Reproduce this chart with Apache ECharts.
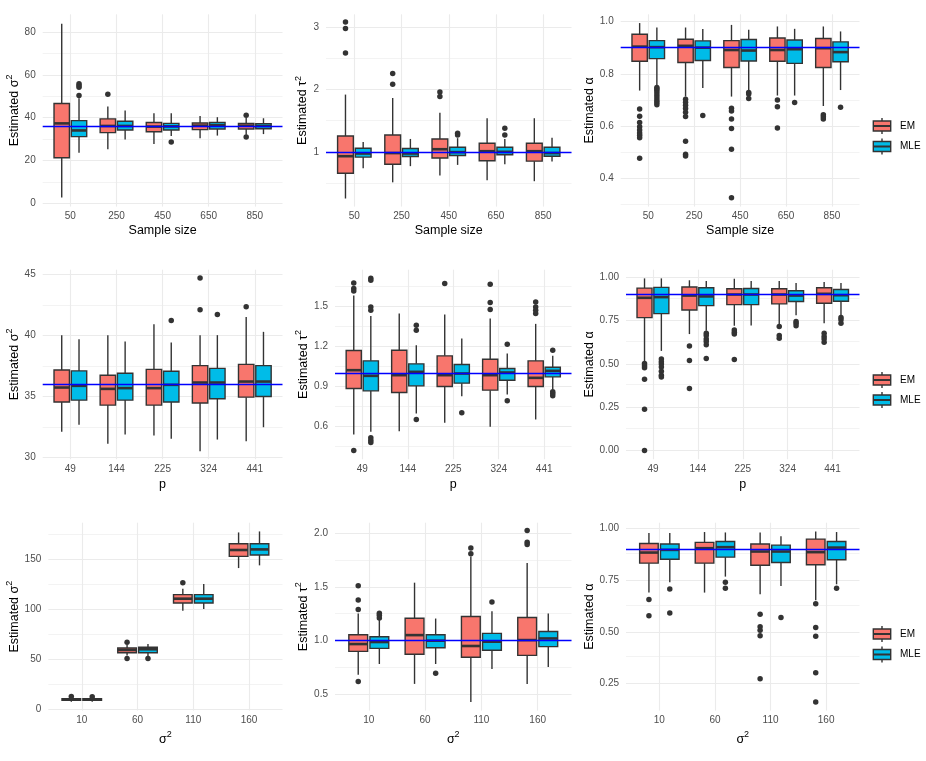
<!DOCTYPE html>
<html>
<head>
<meta charset="utf-8">
<script src="https://cdn.jsdelivr.net/npm/echarts@6/dist/echarts.min.js"></script>
<style>
html,body{margin:0;padding:0;background:#fff;}
#chart{width:926px;height:761px;}
</style>
</head>
<body>
<div id="chart"></div>
<script>
// ---------------- DATA ----------------
const sampleSizes = ['50', '250', '450', '650', '850'];
const pValues = ['49', '144', '225', '324', '441'];
const sigma2Values = ['10', '60', '110', '160'];
const methods = ['EM', 'MLE'];

// each box: [lower whisker, Q1, median, Q3, upper whisker]; outliers: [category index, value]
// Panel 1: Estimated sigma^2 vs sample size
const p1EM = [[2.7, 21.25, 37.3, 46.6, 83.9], [25.2, 33.0, 36.1, 39.4, 45.2], [27.7, 33.4, 35.8, 37.7, 42.0], [30.3, 34.4, 36.25, 37.5, 40.8], [32.0, 34.7, 36.25, 37.3, 39.9]];
const p1MLE = [[23.6, 31.1, 34.0, 38.6, 49.0], [29.8, 34.2, 36.1, 38.3, 43.3], [31.4, 34.2, 35.9, 37.3, 42.0], [31.6, 34.7, 36.4, 37.7, 40.2], [32.3, 34.8, 36.1, 37.2, 39.7]];
const p1EMOut = [[1, 50.9], [4, 41.1], [4, 30.9]];
const p1MLEOut = [[0, 55.8], [0, 55.0], [0, 54.2], [0, 50.3], [2, 28.6]];
const p1Ticks = [0, 20, 40, 60, 80];
const p1TickLabels = ['0', '20', '40', '60', '80'];
const p1Minor = [10, 30, 50, 70];
const p1True = 36;

// Panel 2: Estimated tau^2 vs sample size
const p2EM = [[0.25, 0.655, 0.93, 1.255, 1.92], [0.51, 0.80, 0.98, 1.27, 1.865], [0.618, 0.90, 1.042, 1.207, 1.63], [0.544, 0.857, 1.01, 1.138, 1.54], [0.528, 0.85, 1.01, 1.138, 1.54]];
const p2MLE = [[0.735, 0.915, 0.973, 1.058, 1.16], [0.77, 0.926, 0.973, 1.053, 1.207], [0.79, 0.94, 0.995, 1.074, 1.22], [0.8, 0.952, 1.0, 1.074, 1.207], [0.846, 0.93, 0.98, 1.074, 1.228]];
const p2EMOut = [[0, 3.085], [0, 2.98], [0, 2.59], [1, 2.257], [1, 2.087], [2, 1.96], [2, 1.89]];
const p2MLEOut = [[2, 1.30], [2, 1.27], [3, 1.377], [3, 1.27]];
const p2Ticks = [1, 2, 3];
const p2TickLabels = ['1', '2', '3'];
const p2Minor = [0.5, 1.5, 2.5];
const p2True = 1;

// Panel 3: Estimated alpha vs sample size
const p3EM = [[0.736, 0.848, 0.904, 0.951, 0.994], [0.713, 0.843, 0.907, 0.932, 0.977], [0.713, 0.824, 0.891, 0.927, 0.987], [0.717, 0.848, 0.891, 0.937, 0.981], [0.677, 0.824, 0.898, 0.935, 0.981]];
const p3MLE = [[0.757, 0.858, 0.902, 0.927, 0.977], [0.746, 0.851, 0.90, 0.926, 0.971], [0.738, 0.849, 0.889, 0.931, 0.968], [0.717, 0.84, 0.894, 0.929, 0.972], [0.738, 0.846, 0.883, 0.922, 0.962]];
const p3EMOut = [[0, 0.666], [0, 0.638], [0, 0.614], [0, 0.598], [0, 0.585], [0, 0.574], [0, 0.565], [0, 0.556], [0, 0.477],
  [1, 0.703], [1, 0.691], [1, 0.68], [1, 0.667], [1, 0.653], [1, 0.637], [1, 0.542], [1, 0.493], [1, 0.486],
  [2, 0.668], [2, 0.658], [2, 0.627], [2, 0.591], [2, 0.512], [2, 0.326],
  [3, 0.70], [3, 0.674], [3, 0.593],
  [4, 0.644], [4, 0.636], [4, 0.627]];
const p3MLEOut = [[0, 0.748], [0, 0.742], [0, 0.735], [0, 0.727], [0, 0.717], [0, 0.708], [0, 0.698], [0, 0.690], [0, 0.682],
  [1, 0.641], [2, 0.729], [2, 0.723], [2, 0.706], [3, 0.69], [4, 0.672]];
const p3Ticks = [0.4, 0.6, 0.8, 1.0];
const p3TickLabels = ['0.4', '0.6', '0.8', '1.0'];
const p3Minor = [0.3, 0.5, 0.7, 0.9];
const p3True = 0.9;

// Panel 4: Estimated sigma^2 vs p
const p4EM = [[32.12, 34.56, 35.75, 37.19, 40.04], [31.14, 34.31, 35.64, 36.75, 40.04], [31.82, 34.31, 35.70, 37.24, 40.93], [30.54, 34.48, 36.16, 37.54, 40.04], [31.36, 34.96, 36.24, 37.65, 41.53]];
const p4MLE = [[32.71, 34.72, 35.89, 37.11, 39.71], [31.9, 34.72, 35.70, 36.92, 39.52], [31.55, 34.56, 35.97, 37.08, 39.44], [31.49, 34.83, 36.16, 37.32, 40.04], [32.50, 35.02, 36.24, 37.54, 40.31]];
const p4EMOut = [[3, 44.73], [3, 42.12], [4, 42.37]];
const p4MLEOut = [[2, 41.23], [3, 41.74]];
const p4Ticks = [30, 35, 40, 45];
const p4TickLabels = ['30', '35', '40', '45'];
const p4Minor = [32.5, 37.5, 42.5];
const p4True = 36;

// Panel 5: Estimated tau^2 vs p
const p5EM = [[0.5375, 0.8825, 1.02, 1.1675, 1.58], [0.5625, 0.8525, 0.9825, 1.17, 1.445], [0.625, 0.8975, 0.9825, 1.1275, 1.4375], [0.595, 0.87, 0.9825, 1.1025, 1.4075], [0.65, 0.8975, 0.9625, 1.09, 1.3675]];
const p5MLE = [[0.5575, 0.865, 0.9775, 1.09, 1.4275], [0.695, 0.9025, 1.0075, 1.0675, 1.2075], [0.825, 0.9225, 0.995, 1.0625, 1.2575], [0.8375, 0.945, 1.0025, 1.0325, 1.145], [0.875, 0.97, 1.015, 1.0425, 1.1275]];
const p5EMOut = [[0, 1.675], [0, 1.6325], [0, 1.615], [0, 0.4175], [2, 1.67], [3, 1.665], [3, 1.5275], [3, 1.475], [4, 1.5325], [4, 1.495], [4, 1.47], [4, 1.445]];
const p5MLEOut = [[0, 1.71], [0, 1.695], [0, 1.495], [0, 1.47], [0, 0.5125], [0, 0.495], [0, 0.4775], [1, 1.3575], [1, 1.32], [1, 0.65], [2, 0.70], [3, 1.215], [3, 0.79], [4, 1.17], [4, 0.8575], [4, 0.845], [4, 0.8275]];
const p5Ticks = [0.6, 0.9, 1.2, 1.5];
const p5TickLabels = ['0.6', '0.9', '1.2', '1.5'];
const p5Minor = [0.45, 0.75, 1.05, 1.35, 1.65];
const p5True = 1;

// Panel 6: Estimated alpha vs p
const p6EM = [[0.512, 0.766, 0.88, 0.936, 0.992], [0.671, 0.81, 0.893, 0.942, 0.981], [0.719, 0.841, 0.899, 0.932, 0.99], [0.725, 0.845, 0.899, 0.932, 0.977], [0.734, 0.849, 0.903, 0.938, 0.971]];
const p6MLE = [[0.574, 0.789, 0.884, 0.94, 0.992], [0.69, 0.835, 0.888, 0.938, 0.977], [0.721, 0.841, 0.899, 0.934, 0.977], [0.779, 0.859, 0.893, 0.921, 0.965], [0.777, 0.86, 0.895, 0.928, 0.965]];
const p6EMOut = [[0, 0.502], [0, 0.488], [0, 0.477], [0, 0.411], [0, 0.238], [0, 0.0], [1, 0.603], [1, 0.519], [1, 0.357], [2, 0.694], [2, 0.682], [2, 0.671], [2, 0.525], [3, 0.715], [3, 0.663], [3, 0.647], [4, 0.676], [4, 0.657], [4, 0.643], [4, 0.624]];
const p6MLEOut = [[0, 0.527], [0, 0.512], [0, 0.498], [0, 0.481], [0, 0.457], [0, 0.434], [0, 0.424], [1, 0.676], [1, 0.663], [1, 0.643], [1, 0.628], [1, 0.609], [1, 0.531], [3, 0.744], [3, 0.733], [3, 0.719], [4, 0.767], [4, 0.754], [4, 0.734]];
const p6Ticks = [0, 0.25, 0.5, 0.75, 1];
const p6TickLabels = ['0.00', '0.25', '0.50', '0.75', '1.00'];
const p6Minor = [0.125, 0.375, 0.625, 0.875];
const p6True = 0.9;

// Panel 7: Estimated sigma^2 vs true sigma^2
const p7EM = [[7.8, 9.3, 10.0, 10.8, 12.0], [53.8, 56.7, 59.4, 61.4, 64.7], [98.6, 106.2, 110.5, 114.5, 120.5], [141, 152.7, 159, 165.3, 176.5]];
const p7MLE = [[7.9, 9.3, 10.0, 10.8, 12.0], [53.1, 56.7, 60.1, 62.1, 65.4], [100.2, 106.2, 110.5, 114.5, 125.1], [143.7, 154, 159.6, 165.3, 177.5]];
const p7EMOut = [[0, 13.0], [1, 67.0], [1, 50.8], [2, 126.4]];
const p7MLEOut = [[0, 12.9], [1, 50.8]];
const p7Ticks = [0, 50, 100, 150];
const p7TickLabels = ['0', '50', '100', '150'];
const p7Minor = [25, 75, 125, 175];
const p7True = null;

// Panel 8: Estimated tau^2 vs true sigma^2
const p8EM = [[0.682, 0.9, 0.968, 1.054, 1.2515], [0.598, 0.873, 1.051, 1.208, 1.538], [0.429, 0.845, 0.95, 1.224, 1.781], [0.598, 0.863, 1.005, 1.215, 1.72]];
const p8MLE = [[0.783, 0.928, 0.987, 1.036, 1.196], [0.783, 0.934, 0.999, 1.054, 1.205], [0.737, 0.91, 0.99, 1.067, 1.273], [0.756, 0.944, 1.02, 1.085, 1.252]];
const p8EMOut = [[0, 1.51], [0, 1.378], [0, 1.289], [0, 0.62], [2, 1.861], [2, 1.806], [3, 2.022], [3, 1.914], [3, 1.892]];
const p8MLEOut = [[0, 1.255], [0, 1.236], [0, 1.211], [1, 0.697], [2, 1.359]];
const p8Ticks = [0.5, 1.0, 1.5, 2.0];
const p8TickLabels = ['0.5', '1.0', '1.5', '2.0'];
const p8Minor = [0.75, 1.25, 1.75];
const p8True = 1;

// Panel 9: Estimated alpha vs true sigma^2
const p9EM = [[0.69, 0.831, 0.882, 0.926, 0.976], [0.689, 0.831, 0.903, 0.931, 0.981], [0.681, 0.821, 0.887, 0.923, 0.979], [0.652, 0.823, 0.884, 0.947, 0.984]];
const p9MLE = [[0.739, 0.85, 0.895, 0.923, 0.976], [0.766, 0.86, 0.908, 0.935, 0.979], [0.721, 0.834, 0.887, 0.918, 0.961], [0.729, 0.847, 0.906, 0.935, 0.981]];
const p9EMOut = [[0, 0.656], [0, 0.577], [2, 0.584], [2, 0.524], [2, 0.508], [2, 0.481], [2, 0.274], [3, 0.635], [3, 0.521], [3, 0.479], [3, 0.302], [3, 0.161]];
const p9MLEOut = [[0, 0.706], [0, 0.59], [1, 0.739], [1, 0.71], [2, 0.569], [3, 0.71]];
const p9Ticks = [0.25, 0.5, 0.75, 1.0];
const p9TickLabels = ['0.25', '0.50', '0.75', '1.00'];
const p9Minor = [0.375, 0.625, 0.875];
const p9True = 0.9;

// ---------------- STYLE / LAYOUT ----------------
const FONT = 'Liberation Sans, Arial, Helvetica, sans-serif';
const fillColors = ['#F8766D', '#00BCE8'];
const edgeColor = '#333333';
const gridColor = '#EBEBEB';
const DODGE = 0.1875, HALF = 0.167;

const rowTop = [14.3, 269.7, 522.7];
const rowBottom = [206.6, 459.2, 710.6];
const panelLeft = [[42.7, 326, 620.7], [42.7, 335, 626], [48.3, 335, 626]];
const panelRight = [282.5, 571.5, 859.5];
const yTitleX = [16.5, 304, 591.5];
const xNameGap = [17.5, 18.5, 19];
const yRange = [
  [[-1.6, 88.3], [0.12, 3.21], [0.2925, 1.0275]],
  [[29.88, 45.4], [0.352, 1.774], [-0.05, 1.042]],
  [[-1, 186.2], [0.35, 2.095], [0.12, 1.026]]
];
const legendCenters = [[126, 146.5], [380, 400], [634, 654.5]];

const rowCats = [sampleSizes, pValues, sigma2Values];
// axis titles: rich text with superscript 2
const xTitles = ['Sample size', 'p', '{n|σ}{s|2}'];
const yTitles = ['{n|Estimated σ}{s|2}', '{n|Estimated τ}{s|2}', '{n|Estimated α}'];
const titleRich = {
  n: { fontSize: 12.5, color: '#000', fontFamily: FONT, verticalAlign: 'bottom' },
  s: { fontSize: 9, color: '#000', fontFamily: FONT, verticalAlign: 'bottom', padding: [0, 0, 7, 0] }
};

const panelData = [
  [p1EM, p1MLE, p1EMOut, p1MLEOut, p1Ticks, p1TickLabels, p1Minor, p1True],
  [p2EM, p2MLE, p2EMOut, p2MLEOut, p2Ticks, p2TickLabels, p2Minor, p2True],
  [p3EM, p3MLE, p3EMOut, p3MLEOut, p3Ticks, p3TickLabels, p3Minor, p3True],
  [p4EM, p4MLE, p4EMOut, p4MLEOut, p4Ticks, p4TickLabels, p4Minor, p4True],
  [p5EM, p5MLE, p5EMOut, p5MLEOut, p5Ticks, p5TickLabels, p5Minor, p5True],
  [p6EM, p6MLE, p6EMOut, p6MLEOut, p6Ticks, p6TickLabels, p6Minor, p6True],
  [p7EM, p7MLE, p7EMOut, p7MLEOut, p7Ticks, p7TickLabels, p7Minor, p7True],
  [p8EM, p8MLE, p8EMOut, p8MLEOut, p8Ticks, p8TickLabels, p8Minor, p8True],
  [p9EM, p9MLE, p9EMOut, p9MLEOut, p9Ticks, p9TickLabels, p9Minor, p9True]
];

function makeBoxRenderer(color) {
  return function (params, api) {
    const x = api.value(0);
    const lo = api.value(1), q1 = api.value(2), med = api.value(3), q3 = api.value(4), hi = api.value(5);
    const tl = api.coord([x - HALF, q3]);
    const br = api.coord([x + HALF, q1]);
    const mL = api.coord([x - HALF, med]);
    const mR = api.coord([x + HALF, med]);
    const pHi = api.coord([x, hi]);
    const pLo = api.coord([x, lo]);
    const pQ3 = api.coord([x, q3]);
    const pQ1 = api.coord([x, q1]);
    const ls = { stroke: edgeColor, lineWidth: 1.4 };
    return {
      type: 'group',
      children: [
        { type: 'line', shape: { x1: pHi[0], y1: pHi[1], x2: pQ3[0], y2: pQ3[1] }, style: ls },
        { type: 'line', shape: { x1: pQ1[0], y1: pQ1[1], x2: pLo[0], y2: pLo[1] }, style: ls },
        { type: 'rect', shape: { x: tl[0], y: tl[1], width: br[0] - tl[0], height: br[1] - tl[1] }, style: { fill: color, stroke: edgeColor, lineWidth: 1.4 } },
        { type: 'line', shape: { x1: mL[0], y1: mL[1], x2: mR[0], y2: mR[1] }, style: { stroke: edgeColor, lineWidth: 2.6 } }
      ]
    };
  };
}

function nearestLabel(ticks, labels, v) {
  let best = 0;
  for (let i = 1; i < ticks.length; i++) {
    if (Math.abs(ticks[i] - v) < Math.abs(ticks[best] - v)) best = i;
  }
  return labels[best];
}

const grids = [], xAxes = [], yAxes = [], series = [], graphics = [];

for (let r = 0; r < 3; r++) {
  for (let c = 0; c < 3; c++) {
    const i = r * 3 + c;
    const [em, mle, emOut, mleOut, ticks, tickLabels, minor, trueVal] = panelData[i];
    const cats = rowCats[r];
    const n = cats.length;
    const L = panelLeft[r][c], R = panelRight[c], T = rowTop[r], B = rowBottom[r];
    grids.push({ left: L, top: T, width: R - L, height: B - T, containLabel: false });
    xAxes.push({
      type: 'value', gridIndex: i, min: 0.4, max: n + 0.6,
      axisLine: { show: false }, axisTick: { show: false }, splitLine: { show: false },
      axisLabel: {
        customValues: cats.map((_, k) => k + 1),
        formatter: v => cats[Math.round(v) - 1],
        color: '#4D4D4D', fontSize: 10, margin: 5, fontFamily: FONT
      },
      name: xTitles[r], nameLocation: 'middle', nameGap: xNameGap[r],
      nameTextStyle: { fontSize: 12.5, color: '#000', fontFamily: FONT, rich: titleRich }
    });
    yAxes.push({
      type: 'value', gridIndex: i, min: yRange[r][c][0], max: yRange[r][c][1],
      axisLine: { show: false }, axisTick: { show: false }, splitLine: { show: false },
      axisLabel: {
        customValues: ticks,
        formatter: v => nearestLabel(ticks, tickLabels, v),
        color: '#4D4D4D', fontSize: 10, margin: 7, fontFamily: FONT
      },
      name: yTitles[c], nameLocation: 'middle', nameRotate: 90,
      nameGap: L - yTitleX[c] - 6.5,
      nameTextStyle: { fontSize: 12.5, color: '#000', fontFamily: FONT, rich: titleRich }
    });

    // grid lines (drawn beneath the boxes)
    const gl = [];
    minor.forEach(v => gl.push({ yAxis: v, lineStyle: { color: gridColor, width: 0.6, type: 'solid' } }));
    ticks.forEach(v => gl.push({ yAxis: v, lineStyle: { color: gridColor, width: 1.1, type: 'solid' } }));
    cats.forEach((_, k) => gl.push({ xAxis: k + 1, lineStyle: { color: gridColor, width: 1.1, type: 'solid' } }));
    series.push({
      type: 'line', xAxisIndex: i, yAxisIndex: i, data: [], z: 0, silent: true,
      markLine: { z: 0, silent: true, symbol: ['none', 'none'], label: { show: false }, animation: false, data: gl }
    });

    // boxes
    [em, mle].forEach((boxes, m) => {
      const off = m === 0 ? -DODGE : DODGE;
      series.push({
        type: 'custom', name: methods[m], xAxisIndex: i, yAxisIndex: i, z: 2, silent: true,
        renderItem: makeBoxRenderer(fillColors[m]),
        encode: { x: 0, y: [1, 2, 3, 4, 5] },
        data: boxes.map((b, k) => [k + 1 + off].concat(b))
      });
    });
    // outliers
    [emOut, mleOut].forEach((outs, m) => {
      const off = m === 0 ? -DODGE : DODGE;
      series.push({
        type: 'scatter', xAxisIndex: i, yAxisIndex: i, z: 3, silent: true,
        symbol: 'circle', symbolSize: 5.5,
        itemStyle: { color: edgeColor, opacity: 1 },
        data: outs.map(([k, v]) => [k + 1 + off, v])
      });
    });
    // true value line
    if (trueVal !== null) {
      series.push({
        type: 'line', xAxisIndex: i, yAxisIndex: i, data: [], z: 10, silent: true,
        markLine: { z: 10, silent: true, symbol: ['none', 'none'], label: { show: false }, animation: false,
          data: [{ yAxis: trueVal, lineStyle: { color: '#0000FF', width: 1.3, type: 'solid' } }] }
      });
    }
  }
  // legend for this row
  methods.forEach((name, m) => {
    const cy = legendCenters[r][m];
    const kx = 873.3, kw = 17.4;
    graphics.push(
      { type: 'line', shape: { x1: kx + kw / 2, y1: cy - 8, x2: kx + kw / 2, y2: cy + 8 }, style: { stroke: edgeColor, lineWidth: 1.4 }, z: 10 },
      { type: 'rect', shape: { x: kx, y: cy - 5, width: kw, height: 10 }, style: { fill: fillColors[m], stroke: edgeColor, lineWidth: 1.4 }, z: 11 },
      { type: 'line', shape: { x1: kx, y1: cy, x2: kx + kw, y2: cy }, style: { stroke: edgeColor, lineWidth: 2 }, z: 12 },
      { type: 'text', x: 900, y: cy, style: { text: name, fontSize: 10, fill: '#000', fontFamily: FONT, verticalAlign: 'middle', align: 'left' }, z: 12 }
    );
  });
}

const chart = echarts.init(document.getElementById('chart'), null, { renderer: 'canvas' });
chart.setOption({
  animation: false,
  backgroundColor: '#ffffff',
  textStyle: { fontFamily: FONT },
  grid: grids,
  xAxis: xAxes,
  yAxis: yAxes,
  series: series,
  graphic: graphics
});
</script>
</body>
</html>
